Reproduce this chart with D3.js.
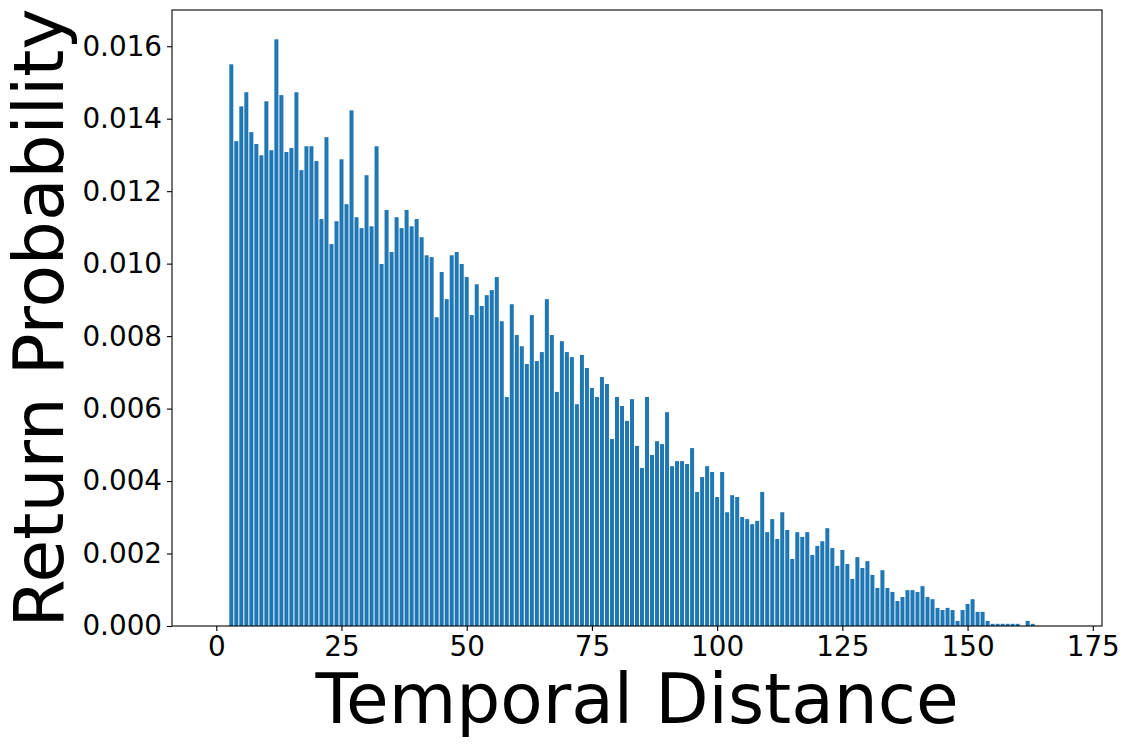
<!DOCTYPE html>
<html>
<head>
<meta charset="utf-8">
<script src="https://cdn.jsdelivr.net/npm/d3@7"></script>
<style>
  html, body { margin: 0; padding: 0; background: #fff; }
  svg { display: block; }
  text { font-family: "DejaVu Sans", sans-serif; fill: #000; }
</style>
</head>
<body>
<svg id="chart" width="1129" height="746"></svg>
<script>
// Temporal distances (x) — bars 3..163
const distances = d3.range(3, 164);
// Return probability per distance
const probabilities = [
  0.01550, 0.01338, 0.01434, 0.01473, 0.01363, 0.01330, 0.01299, 0.01448, 0.01313, 0.01619, // 3-12
  0.01465, 0.01308, 0.01319, 0.01473, 0.01258, 0.01324, 0.01324, 0.01283, 0.01123, 0.01349, // 13-22
  0.01054, 0.01117, 0.01288, 0.01164, 0.01423, 0.01128, 0.01098, 0.01244, 0.01103, 0.01324, // 23-32
  0.00999, 0.01148, 0.01032, 0.01128, 0.01098, 0.01148, 0.01103, 0.01123, 0.01073, 0.01023, // 33-42
  0.01018, 0.00852, 0.00977, 0.00902, 0.01023, 0.01032, 0.00999, 0.00963, 0.00858, 0.00943, // 43-52
  0.00883, 0.00913, 0.00927, 0.00963, 0.00841, 0.00632, 0.00888, 0.00803, 0.00772, 0.00723, // 53-62
  0.00858, 0.00731, 0.00756, 0.00902, 0.00803, 0.00646, 0.00786, 0.00756, 0.00742, 0.00612, // 63-72
  0.00748, 0.00712, 0.00657, 0.00632, 0.00687, 0.00668, 0.00516, 0.00632, 0.00607, 0.00566, // 73-82
  0.00626, 0.00497, 0.00436, 0.00632, 0.00472, 0.00510, 0.00502, 0.00590, 0.00441, 0.00455, // 83-92
  0.00455, 0.00447, 0.00491, 0.00370, 0.00411, 0.00441, 0.00425, 0.00356, 0.00425, 0.00314, // 93-102
  0.00361, 0.00356, 0.00301, 0.00295, 0.00281, 0.00290, 0.00370, 0.00259, 0.00295, 0.00240, // 103-112
  0.00314, 0.00265, 0.00185, 0.00259, 0.00246, 0.00259, 0.00196, 0.00221, 0.00234, 0.00270, // 113-122
  0.00215, 0.00166, 0.00210, 0.00171, 0.00130, 0.00190, 0.00160, 0.00179, 0.00141, 0.00105, // 123-132
  0.00154, 0.00105, 0.00094, 0.00069, 0.00080, 0.00099, 0.00099, 0.00094, 0.00110, 0.00080, // 133-142
  0.00074, 0.00050, 0.00044, 0.00050, 0.00044, 0.00014, 0.00044, 0.00061, 0.00074, 0.00039, // 143-152
  0.00039, 0.00014, 0.00006, 0.00006, 0.00006, 0.00006, 0.00006, 0.00006, 0.00000, 0.00014, // 153-162
  0.00006                                                                                   // 163
];
const xTicks = [0, 25, 50, 75, 100, 125, 150, 175];
const yTicks = [0, 0.002, 0.004, 0.006, 0.008, 0.010, 0.012, 0.014, 0.016];
const xLabel = "Temporal Distance";
const yLabel = "Return Probability";

const data = distances.map((d, i) => ({ x: d, y: probabilities[i] }));

const svg = d3.select("#chart");
const plot = { left: 172, top: 10, right: 1102, bottom: 626 };

const x = d3.scaleLinear().domain([-8.84, 176.84]).range([plot.left, plot.right]);
const yMax = d3.max(probabilities) * 1.05;
const y = d3.scaleLinear().domain([0, yMax]).range([plot.bottom, plot.top]);

const barW = 0.8;
svg.append("g")
  .selectAll("rect")
  .data(data)
  .join("rect")
  .attr("x", d => x(d.x - barW / 2))
  .attr("width", d => x(d.x + barW / 2) - x(d.x - barW / 2))
  .attr("y", d => y(d.y))
  .attr("height", d => y(0) - y(d.y))
  .attr("fill", "#1f77b4");

// Axes
const xAxis = d3.axisBottom(x).tickValues(xTicks).tickFormat(d3.format("d")).tickSizeOuter(0).tickSize(5).tickPadding(5);
const yAxis = d3.axisLeft(y).tickValues(yTicks).tickFormat(d3.format(".3f")).tickSizeOuter(0).tickSize(5).tickPadding(5);

const gx = svg.append("g").attr("transform", `translate(0,${plot.bottom})`).call(xAxis);
const gy = svg.append("g").attr("transform", `translate(${plot.left},0)`).call(yAxis);
[gx, gy].forEach(g => {
  g.select(".domain").remove();
  g.selectAll(".tick line").attr("stroke", "#000").attr("stroke-width", 1.1);
  g.selectAll(".tick text").attr("font-family", "DejaVu Sans").attr("font-size", 27.8).attr("fill", "#000");
});

// Frame
svg.append("rect")
  .attr("x", plot.left).attr("y", plot.top)
  .attr("width", plot.right - plot.left).attr("height", plot.bottom - plot.top)
  .attr("fill", "none").attr("stroke", "#000").attr("stroke-width", 1.1);

// Axis labels
svg.append("text")
  .attr("x", (plot.left + plot.right) / 2)
  .attr("y", 723)
  .attr("text-anchor", "middle")
  .attr("font-size", 69.4)
  .text(xLabel);

svg.append("text")
  .attr("transform", `translate(63,${(plot.top + plot.bottom) / 2}) rotate(-90)`)
  .attr("text-anchor", "middle")
  .attr("font-size", 69.4)
  .text(yLabel);
</script>
</body>
</html>
